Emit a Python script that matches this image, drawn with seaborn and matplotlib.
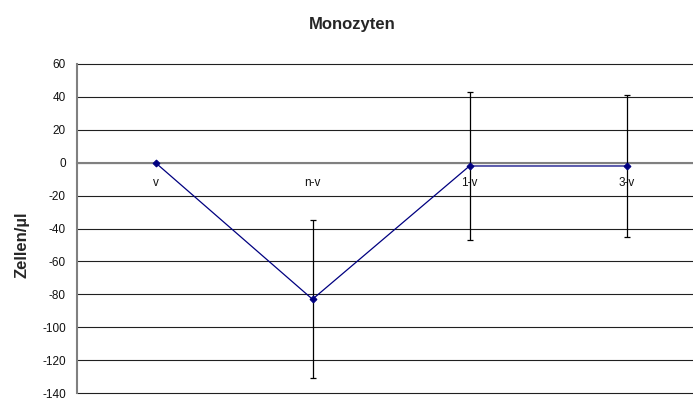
import matplotlib
matplotlib.use("Agg")
import matplotlib.pyplot as plt
import seaborn as sns
import pandas as pd

# Mean change in monocyte count per group, with error bar half-widths
categories = ["v", "n-v", "1-v", "3-v"]
means = [0, -83, -2, -2]
errors = [0, 48, 45, 43]
yticks = [-140, -120, -100, -80, -60, -40, -20, 0, 20, 40, 60]

sns.set_theme(style="white")
plt.rcParams["font.family"] = ["Liberation Sans", "DejaVu Sans"]

fig = plt.figure(figsize=(6.93, 4.01), dpi=100)
ax = fig.add_axes([77 / 693, 8 / 401, 628 / 693, 329 / 401])

df = pd.DataFrame({"Gruppe": categories, "Zellen": means, "Fehler": errors})

# error bars (group without spread has none)
pos = list(range(len(categories)))
err_idx = [i for i in pos if errors[i] > 0]
ax.errorbar([pos[i] for i in err_idx], [means[i] for i in err_idx],
            yerr=[errors[i] for i in err_idx], fmt="none", ecolor="black",
            elinewidth=0.9, capsize=2, capthick=0.9, zorder=3)

sns.lineplot(data=df, x="Gruppe", y="Zellen", ax=ax, sort=False,
             color="#000080", linewidth=0.9, marker="D", markersize=3.5,
             markeredgecolor="#000080", zorder=4)

ax.set_xlim(-0.5, len(categories) - 0.5)
ax.set_ylim(-140, 60)
ax.set_yticks(yticks)
ax.set_yticklabels([str(t) for t in yticks])
ax.yaxis.grid(True, color="#202020", linewidth=0.8)
ax.xaxis.grid(False)
ax.set_axisbelow(True)
for gl in ax.get_ygridlines():
    gl.set_clip_on(False)

for side in ("top", "right"):
    ax.spines[side].set_visible(False)
ax.spines["left"].set_color("#808080")
ax.spines["left"].set_linewidth(1.5)
ax.spines["bottom"].set_position(("data", 0))
ax.spines["bottom"].set_color("#808080")
ax.spines["bottom"].set_linewidth(1.5)

ax.set_xticks(pos)
ax.set_xticklabels(categories)
ax.set_xticks([p + 0.5 for p in pos[:-1]], minor=True)
ax.tick_params(axis="x", which="major", length=0, pad=10, labelsize=8.5, labelcolor="#111111")
ax.tick_params(axis="x", which="minor", length=4, width=1, color="#404040", direction="out")
ax.tick_params(axis="y", length=4, width=1, color="#404040", direction="out",
               pad=4, labelsize=8.5, labelcolor="#111111")

ax.set_xlabel("")
ax.set_ylabel("")
fig.text(22 / 693, 1 - 245 / 401, "Zellen/µl", rotation=90, ha="center", va="center",
         fontsize=12, fontweight="bold")
fig.text(352 / 693, 1 - 25 / 401, "Monozyten", ha="center", va="center",
         fontsize=12, fontweight="bold")

fig.savefig("out.png", dpi=100)
